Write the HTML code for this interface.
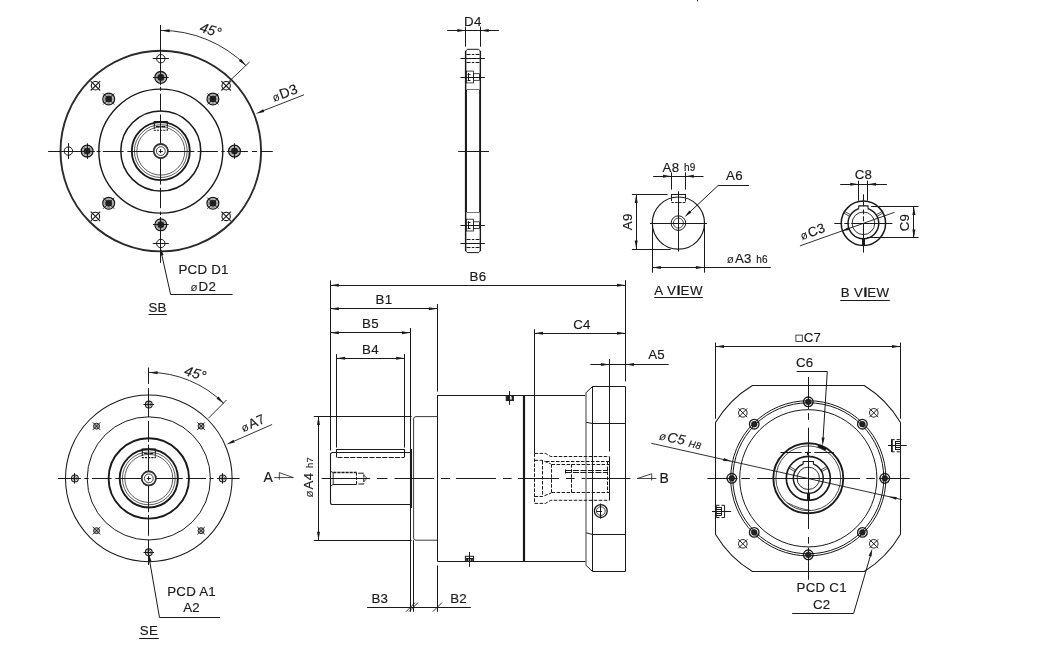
<!DOCTYPE html>
<html><head><meta charset="utf-8"><title>Dimension drawing</title>
<style>
html,body{margin:0;padding:0;background:#fff;}
body{width:1039px;height:659px;overflow:hidden;}
svg{display:block;opacity:0.9999;will-change:transform}
text{font-family:"Liberation Sans",sans-serif;fill:#1a1a1a;letter-spacing:0.25px;stroke:#1a1a1a;stroke-width:0.16px;}
</style></head><body>
<svg width="1039" height="659" viewBox="0 0 1039 659">
<rect x="0" y="0" width="1039" height="659" fill="#ffffff"/>
<circle cx="160.80" cy="151.10" r="100.30" stroke="#2a2a2a" stroke-width="1.9" fill="none"/>
<circle cx="160.80" cy="151.10" r="62.00" stroke="#1a1a1a" stroke-width="1.4" fill="none"/>
<circle cx="160.80" cy="151.10" r="40.00" stroke="#1a1a1a" stroke-width="1.5" fill="none"/>
<circle cx="160.80" cy="151.10" r="29.00" stroke="#1a1a1a" stroke-width="1.9" fill="none"/>
<circle cx="160.80" cy="151.10" r="26.40" stroke="#1a1a1a" stroke-width="0.7" fill="none"/>
<circle cx="160.80" cy="151.10" r="24.00" stroke="#1a1a1a" stroke-width="0.7" fill="none"/>
<circle cx="160.80" cy="151.10" r="7.00" stroke="#333" stroke-width="1.6" fill="none"/>
<circle cx="160.80" cy="151.10" r="4.40" stroke="#1a1a1a" stroke-width="0.8" fill="none"/>
<line x1="158.80" y1="151.50" x2="162.80" y2="151.50" stroke="#1a1a1a" stroke-width="1.0"/>
<line x1="160.50" y1="149.10" x2="160.50" y2="153.10" stroke="#1a1a1a" stroke-width="1.0"/>
<path d="M154.3,126.5 V121.5 H167.3 V126.5" stroke="#1a1a1a" stroke-width="1.15" fill="none"/>
<path d="M154.3,126.5 V130.29999999999998 H167.3 V126.5" stroke="#1a1a1a" stroke-width="1.05" fill="none" stroke-dasharray="2.2 1.0"/>
<line x1="155.80" y1="126.50" x2="165.80" y2="126.50" stroke="#1a1a1a" stroke-width="1.0" stroke-dasharray="4 1.5"/>
<line x1="48.10" y1="151.50" x2="94.30" y2="151.50" stroke="#1a1a1a" stroke-width="1.0"/>
<line x1="96.60" y1="151.50" x2="100.50" y2="151.50" stroke="#1a1a1a" stroke-width="1.0"/>
<line x1="102.80" y1="151.50" x2="123.60" y2="151.50" stroke="#1a1a1a" stroke-width="1.0"/>
<line x1="127.30" y1="151.50" x2="194.30" y2="151.50" stroke="#1a1a1a" stroke-width="1.0"/>
<line x1="197.50" y1="151.50" x2="217.90" y2="151.50" stroke="#1a1a1a" stroke-width="1.0"/>
<line x1="221.30" y1="151.50" x2="224.80" y2="151.50" stroke="#1a1a1a" stroke-width="1.0"/>
<line x1="227.60" y1="151.50" x2="247.90" y2="151.50" stroke="#1a1a1a" stroke-width="1.0"/>
<line x1="252.00" y1="151.50" x2="257.10" y2="151.50" stroke="#1a1a1a" stroke-width="1.0"/>
<line x1="260.60" y1="151.50" x2="272.80" y2="151.50" stroke="#1a1a1a" stroke-width="1.0"/>
<line x1="160.50" y1="25.00" x2="160.50" y2="84.50" stroke="#1a1a1a" stroke-width="1.0"/>
<line x1="160.50" y1="86.90" x2="160.50" y2="90.80" stroke="#1a1a1a" stroke-width="1.0"/>
<line x1="160.50" y1="93.80" x2="160.50" y2="111.50" stroke="#1a1a1a" stroke-width="1.0"/>
<line x1="160.50" y1="114.50" x2="160.50" y2="184.60" stroke="#1a1a1a" stroke-width="1.0"/>
<line x1="160.50" y1="187.80" x2="160.50" y2="208.20" stroke="#1a1a1a" stroke-width="1.0"/>
<line x1="160.50" y1="211.60" x2="160.50" y2="215.10" stroke="#1a1a1a" stroke-width="1.0"/>
<line x1="160.50" y1="217.90" x2="160.50" y2="238.20" stroke="#1a1a1a" stroke-width="1.0"/>
<line x1="160.50" y1="242.30" x2="160.50" y2="247.40" stroke="#1a1a1a" stroke-width="1.0"/>
<line x1="160.50" y1="250.90" x2="160.50" y2="262.80" stroke="#1a1a1a" stroke-width="1.0"/>
<circle cx="160.80" cy="151.10" r="7.00" stroke="#333" stroke-width="1.6" fill="#fff"/>
<circle cx="160.80" cy="151.10" r="4.40" stroke="#1a1a1a" stroke-width="0.8" fill="none"/>
<line x1="158.80" y1="151.50" x2="162.80" y2="151.50" stroke="#1a1a1a" stroke-width="1.0"/>
<line x1="160.50" y1="149.10" x2="160.50" y2="153.10" stroke="#1a1a1a" stroke-width="1.0"/>
<circle cx="234.50" cy="151.10" r="5.90" stroke="#1a1a1a" stroke-width="1.3" fill="none"/>
<circle cx="234.50" cy="151.10" r="3.30" stroke="#1a1a1a" stroke-width="0.6" fill="#222"/>
<circle cx="234.50" cy="151.10" r="4.48" stroke="#1a1a1a" stroke-width="0.5" fill="none"/>
<line x1="226.70" y1="151.50" x2="242.30" y2="151.50" stroke="#1a1a1a" stroke-width="1.0"/>
<line x1="234.50" y1="143.30" x2="234.50" y2="158.90" stroke="#1a1a1a" stroke-width="1.0"/>
<circle cx="212.91" cy="203.21" r="5.90" stroke="#1a1a1a" stroke-width="1.3" fill="none"/>
<circle cx="212.91" cy="203.21" r="3.30" stroke="#1a1a1a" stroke-width="0.6" fill="#222"/>
<circle cx="212.91" cy="203.21" r="4.48" stroke="#1a1a1a" stroke-width="0.5" fill="none"/>
<line x1="207.40" y1="197.70" x2="218.43" y2="208.73" stroke="#1a1a1a" stroke-width="0.9"/>
<line x1="218.43" y1="197.70" x2="207.40" y2="208.73" stroke="#1a1a1a" stroke-width="0.9"/>
<circle cx="160.80" cy="224.80" r="5.90" stroke="#1a1a1a" stroke-width="1.3" fill="none"/>
<circle cx="160.80" cy="224.80" r="3.30" stroke="#1a1a1a" stroke-width="0.6" fill="#222"/>
<circle cx="160.80" cy="224.80" r="4.48" stroke="#1a1a1a" stroke-width="0.5" fill="none"/>
<line x1="160.50" y1="217.00" x2="160.50" y2="232.60" stroke="#1a1a1a" stroke-width="1.0"/>
<line x1="168.60" y1="224.50" x2="153.00" y2="224.50" stroke="#1a1a1a" stroke-width="1.0"/>
<circle cx="108.69" cy="203.21" r="5.90" stroke="#1a1a1a" stroke-width="1.3" fill="none"/>
<circle cx="108.69" cy="203.21" r="3.30" stroke="#1a1a1a" stroke-width="0.6" fill="#222"/>
<circle cx="108.69" cy="203.21" r="4.48" stroke="#1a1a1a" stroke-width="0.5" fill="none"/>
<line x1="114.20" y1="197.70" x2="103.17" y2="208.73" stroke="#1a1a1a" stroke-width="0.9"/>
<line x1="114.20" y1="208.73" x2="103.17" y2="197.70" stroke="#1a1a1a" stroke-width="0.9"/>
<circle cx="87.10" cy="151.10" r="5.90" stroke="#1a1a1a" stroke-width="1.3" fill="none"/>
<circle cx="87.10" cy="151.10" r="3.30" stroke="#1a1a1a" stroke-width="0.6" fill="#222"/>
<circle cx="87.10" cy="151.10" r="4.48" stroke="#1a1a1a" stroke-width="0.5" fill="none"/>
<line x1="94.90" y1="151.50" x2="79.30" y2="151.50" stroke="#1a1a1a" stroke-width="1.0"/>
<line x1="87.50" y1="158.90" x2="87.50" y2="143.30" stroke="#1a1a1a" stroke-width="1.0"/>
<circle cx="108.69" cy="98.99" r="5.90" stroke="#1a1a1a" stroke-width="1.3" fill="none"/>
<circle cx="108.69" cy="98.99" r="3.30" stroke="#1a1a1a" stroke-width="0.6" fill="#222"/>
<circle cx="108.69" cy="98.99" r="4.48" stroke="#1a1a1a" stroke-width="0.5" fill="none"/>
<line x1="114.20" y1="104.50" x2="103.17" y2="93.47" stroke="#1a1a1a" stroke-width="0.9"/>
<line x1="103.17" y1="104.50" x2="114.20" y2="93.47" stroke="#1a1a1a" stroke-width="0.9"/>
<circle cx="160.80" cy="77.40" r="5.90" stroke="#1a1a1a" stroke-width="1.3" fill="none"/>
<circle cx="160.80" cy="77.40" r="3.30" stroke="#1a1a1a" stroke-width="0.6" fill="#222"/>
<circle cx="160.80" cy="77.40" r="4.48" stroke="#1a1a1a" stroke-width="0.5" fill="none"/>
<line x1="160.50" y1="85.20" x2="160.50" y2="69.60" stroke="#1a1a1a" stroke-width="1.0"/>
<line x1="153.00" y1="77.50" x2="168.60" y2="77.50" stroke="#1a1a1a" stroke-width="1.0"/>
<circle cx="212.91" cy="98.99" r="5.90" stroke="#1a1a1a" stroke-width="1.3" fill="none"/>
<circle cx="212.91" cy="98.99" r="3.30" stroke="#1a1a1a" stroke-width="0.6" fill="#222"/>
<circle cx="212.91" cy="98.99" r="4.48" stroke="#1a1a1a" stroke-width="0.5" fill="none"/>
<line x1="207.40" y1="104.50" x2="218.43" y2="93.47" stroke="#1a1a1a" stroke-width="0.9"/>
<line x1="207.40" y1="93.47" x2="218.43" y2="104.50" stroke="#1a1a1a" stroke-width="0.9"/>
<circle cx="226.14" cy="216.44" r="4.20" stroke="#1a1a1a" stroke-width="1.1" fill="none"/>
<line x1="221.40" y1="211.70" x2="230.87" y2="221.17" stroke="#1a1a1a" stroke-width="1.1"/>
<line x1="230.87" y1="211.70" x2="221.40" y2="221.17" stroke="#1a1a1a" stroke-width="1.1"/>
<circle cx="160.80" cy="243.50" r="4.20" stroke="#1a1a1a" stroke-width="1.0" fill="none"/>
<line x1="160.50" y1="235.50" x2="160.50" y2="251.50" stroke="#1a1a1a" stroke-width="1.0"/>
<line x1="168.80" y1="243.50" x2="152.80" y2="243.50" stroke="#1a1a1a" stroke-width="1.0"/>
<circle cx="95.46" cy="216.44" r="4.20" stroke="#1a1a1a" stroke-width="1.1" fill="none"/>
<line x1="100.20" y1="211.70" x2="90.73" y2="221.17" stroke="#1a1a1a" stroke-width="1.1"/>
<line x1="100.20" y1="221.17" x2="90.73" y2="211.70" stroke="#1a1a1a" stroke-width="1.1"/>
<circle cx="68.40" cy="151.10" r="4.20" stroke="#1a1a1a" stroke-width="1.0" fill="none"/>
<line x1="76.40" y1="151.50" x2="60.40" y2="151.50" stroke="#1a1a1a" stroke-width="1.0"/>
<line x1="68.50" y1="159.10" x2="68.50" y2="143.10" stroke="#1a1a1a" stroke-width="1.0"/>
<circle cx="95.46" cy="85.76" r="4.20" stroke="#1a1a1a" stroke-width="1.1" fill="none"/>
<line x1="100.20" y1="90.50" x2="90.73" y2="81.03" stroke="#1a1a1a" stroke-width="1.1"/>
<line x1="90.73" y1="90.50" x2="100.20" y2="81.03" stroke="#1a1a1a" stroke-width="1.1"/>
<circle cx="160.80" cy="58.70" r="4.20" stroke="#1a1a1a" stroke-width="1.0" fill="none"/>
<line x1="160.50" y1="66.70" x2="160.50" y2="50.70" stroke="#1a1a1a" stroke-width="1.0"/>
<line x1="152.80" y1="58.50" x2="168.80" y2="58.50" stroke="#1a1a1a" stroke-width="1.0"/>
<circle cx="226.14" cy="85.76" r="4.20" stroke="#1a1a1a" stroke-width="1.1" fill="none"/>
<line x1="221.40" y1="90.50" x2="230.87" y2="81.03" stroke="#1a1a1a" stroke-width="1.1"/>
<line x1="221.40" y1="81.03" x2="230.87" y2="90.50" stroke="#1a1a1a" stroke-width="1.1"/>
<path d="M160.8,30.39999999999999 A120.7,120.7 0 0 1 246.15,65.75" stroke="#1a1a1a" stroke-width="0.9" fill="none"/>
<polygon points="161.10,30.40 169.65,29.20 169.54,32.20" fill="#1a1a1a"/>
<polygon points="246.15,65.75 238.91,61.05 240.95,58.86" fill="#1a1a1a"/>
<line x1="228.00" y1="82.50" x2="249.50" y2="62.00" stroke="#1a1a1a" stroke-width="0.9"/>
<text x="209.40" y="34.70" font-size="14" text-anchor="middle" transform="rotate(17 209.40 34.70)" font-style="italic" >45°</text>
<line x1="260.00" y1="112.00" x2="304.00" y2="94.80" stroke="#1a1a1a" stroke-width="0.9"/>
<polygon points="255.80,113.70 263.17,109.21 264.26,112.01" fill="#1a1a1a"/>
<text x="274.00" y="102.00" font-size="14" text-anchor="start" transform="rotate(-20.5 274.00 102.00)" ><tspan font-size="11.5" stroke="none" letter-spacing="1.1">ø</tspan>D3</text>
<path d="M160.5,249 L170.6,294.5 H232.6" stroke="#1a1a1a" stroke-width="1.0" fill="none"/>
<polygon points="160.30,247.50 163.56,254.96 160.64,255.63" fill="#1a1a1a"/>
<text x="203.60" y="274.20" font-size="13.3" text-anchor="middle" >PCD D1</text>
<text x="203.30" y="290.50" font-size="13.3" text-anchor="middle" ><tspan font-size="11.5" stroke="none" letter-spacing="1.1">ø</tspan>D2</text>
<text x="157.60" y="312.00" font-size="13.3" text-anchor="middle" >SB</text>
<line x1="148.50" y1="314.50" x2="166.80" y2="314.50" stroke="#1a1a1a" stroke-width="1.0"/>
<circle cx="148.80" cy="478.40" r="83.30" stroke="#1a1a1a" stroke-width="1.05" fill="none"/>
<circle cx="148.80" cy="478.40" r="61.60" stroke="#1a1a1a" stroke-width="1.0" fill="none"/>
<circle cx="148.80" cy="478.40" r="40.20" stroke="#1a1a1a" stroke-width="1.9" fill="none"/>
<circle cx="148.80" cy="478.40" r="29.10" stroke="#1a1a1a" stroke-width="1.9" fill="none"/>
<circle cx="148.80" cy="478.40" r="26.40" stroke="#1a1a1a" stroke-width="0.7" fill="none"/>
<circle cx="148.80" cy="478.40" r="24.00" stroke="#1a1a1a" stroke-width="0.7" fill="none"/>
<circle cx="148.80" cy="478.40" r="7.00" stroke="#333" stroke-width="1.6" fill="none"/>
<circle cx="148.80" cy="478.40" r="4.40" stroke="#1a1a1a" stroke-width="0.8" fill="none"/>
<line x1="146.80" y1="478.50" x2="150.80" y2="478.50" stroke="#1a1a1a" stroke-width="1.0"/>
<line x1="148.50" y1="476.40" x2="148.50" y2="480.40" stroke="#1a1a1a" stroke-width="1.0"/>
<path d="M142.3,453.79999999999995 V449.09999999999997 H155.3 V453.79999999999995" stroke="#1a1a1a" stroke-width="1.15" fill="none"/>
<path d="M142.3,453.79999999999995 V457.59999999999997 H155.3 V453.79999999999995" stroke="#1a1a1a" stroke-width="1.05" fill="none" stroke-dasharray="2.2 1.0"/>
<line x1="143.80" y1="453.50" x2="153.80" y2="453.50" stroke="#1a1a1a" stroke-width="1.0" stroke-dasharray="4 1.5"/>
<line x1="58.10" y1="478.50" x2="80.80" y2="478.50" stroke="#1a1a1a" stroke-width="1.0"/>
<line x1="84.30" y1="478.50" x2="88.50" y2="478.50" stroke="#1a1a1a" stroke-width="1.0"/>
<line x1="92.00" y1="478.50" x2="111.60" y2="478.50" stroke="#1a1a1a" stroke-width="1.0"/>
<line x1="115.40" y1="478.50" x2="182.80" y2="478.50" stroke="#1a1a1a" stroke-width="1.0"/>
<line x1="186.30" y1="478.50" x2="205.90" y2="478.50" stroke="#1a1a1a" stroke-width="1.0"/>
<line x1="209.40" y1="478.50" x2="213.60" y2="478.50" stroke="#1a1a1a" stroke-width="1.0"/>
<line x1="217.10" y1="478.50" x2="239.60" y2="478.50" stroke="#1a1a1a" stroke-width="1.0"/>
<line x1="148.50" y1="367.50" x2="148.50" y2="383.90" stroke="#1a1a1a" stroke-width="1.0"/>
<line x1="148.50" y1="388.20" x2="148.50" y2="417.30" stroke="#1a1a1a" stroke-width="1.0"/>
<line x1="148.50" y1="421.00" x2="148.50" y2="441.90" stroke="#1a1a1a" stroke-width="1.0"/>
<line x1="148.50" y1="444.60" x2="148.50" y2="512.20" stroke="#1a1a1a" stroke-width="1.0"/>
<line x1="148.50" y1="514.90" x2="148.50" y2="535.80" stroke="#1a1a1a" stroke-width="1.0"/>
<line x1="148.50" y1="539.50" x2="148.50" y2="565.00" stroke="#1a1a1a" stroke-width="1.0"/>
<circle cx="148.80" cy="478.40" r="7.00" stroke="#333" stroke-width="1.6" fill="#fff"/>
<circle cx="148.80" cy="478.40" r="4.40" stroke="#1a1a1a" stroke-width="0.8" fill="none"/>
<line x1="146.80" y1="478.50" x2="150.80" y2="478.50" stroke="#1a1a1a" stroke-width="1.0"/>
<line x1="148.50" y1="476.40" x2="148.50" y2="480.40" stroke="#1a1a1a" stroke-width="1.0"/>
<circle cx="222.70" cy="478.40" r="3.40" stroke="#1a1a1a" stroke-width="1.1" fill="none"/>
<circle cx="222.70" cy="478.40" r="1.90" stroke="#1a1a1a" stroke-width="0.6" fill="none"/>
<line x1="217.40" y1="478.50" x2="228.00" y2="478.50" stroke="#1a1a1a" stroke-width="1.0"/>
<line x1="222.50" y1="473.10" x2="222.50" y2="483.70" stroke="#1a1a1a" stroke-width="1.0"/>
<circle cx="201.06" cy="530.66" r="3.00" stroke="#1a1a1a" stroke-width="0.9" fill="#aaa"/>
<line x1="197.26" y1="526.86" x2="204.86" y2="534.46" stroke="#1a1a1a" stroke-width="0.9"/>
<line x1="197.26" y1="534.46" x2="204.86" y2="526.86" stroke="#1a1a1a" stroke-width="0.9"/>
<circle cx="148.80" cy="552.30" r="3.40" stroke="#1a1a1a" stroke-width="1.1" fill="none"/>
<circle cx="148.80" cy="552.30" r="1.90" stroke="#1a1a1a" stroke-width="0.6" fill="none"/>
<line x1="143.50" y1="552.50" x2="154.10" y2="552.50" stroke="#1a1a1a" stroke-width="1.0"/>
<line x1="148.50" y1="547.00" x2="148.50" y2="557.60" stroke="#1a1a1a" stroke-width="1.0"/>
<circle cx="96.54" cy="530.66" r="3.00" stroke="#1a1a1a" stroke-width="0.9" fill="#aaa"/>
<line x1="92.74" y1="526.86" x2="100.34" y2="534.46" stroke="#1a1a1a" stroke-width="0.9"/>
<line x1="92.74" y1="534.46" x2="100.34" y2="526.86" stroke="#1a1a1a" stroke-width="0.9"/>
<circle cx="74.90" cy="478.40" r="3.40" stroke="#1a1a1a" stroke-width="1.1" fill="none"/>
<circle cx="74.90" cy="478.40" r="1.90" stroke="#1a1a1a" stroke-width="0.6" fill="none"/>
<line x1="69.60" y1="478.50" x2="80.20" y2="478.50" stroke="#1a1a1a" stroke-width="1.0"/>
<line x1="74.50" y1="473.10" x2="74.50" y2="483.70" stroke="#1a1a1a" stroke-width="1.0"/>
<circle cx="96.54" cy="426.14" r="3.00" stroke="#1a1a1a" stroke-width="0.9" fill="#aaa"/>
<line x1="92.74" y1="422.34" x2="100.34" y2="429.94" stroke="#1a1a1a" stroke-width="0.9"/>
<line x1="92.74" y1="429.94" x2="100.34" y2="422.34" stroke="#1a1a1a" stroke-width="0.9"/>
<circle cx="148.80" cy="404.50" r="3.40" stroke="#1a1a1a" stroke-width="1.1" fill="none"/>
<circle cx="148.80" cy="404.50" r="1.90" stroke="#1a1a1a" stroke-width="0.6" fill="none"/>
<line x1="143.50" y1="404.50" x2="154.10" y2="404.50" stroke="#1a1a1a" stroke-width="1.0"/>
<line x1="148.50" y1="399.20" x2="148.50" y2="409.80" stroke="#1a1a1a" stroke-width="1.0"/>
<circle cx="201.06" cy="426.14" r="3.00" stroke="#1a1a1a" stroke-width="0.9" fill="#aaa"/>
<line x1="197.26" y1="422.34" x2="204.86" y2="429.94" stroke="#1a1a1a" stroke-width="0.9"/>
<line x1="197.26" y1="429.94" x2="204.86" y2="422.34" stroke="#1a1a1a" stroke-width="0.9"/>
<path d="M148.8,372.4 A106,106 0 0 1 223.75,403.45" stroke="#1a1a1a" stroke-width="0.9" fill="none"/>
<polygon points="149.10,372.40 157.65,371.20 157.54,374.20" fill="#1a1a1a"/>
<polygon points="223.75,403.45 216.51,398.75 218.56,396.55" fill="#1a1a1a"/>
<line x1="208.40" y1="418.30" x2="226.50" y2="400.00" stroke="#1a1a1a" stroke-width="0.9"/>
<text x="194.00" y="377.90" font-size="14" text-anchor="middle" transform="rotate(17 194.00 377.90)" font-style="italic" >45°</text>
<line x1="231.00" y1="442.50" x2="272.10" y2="424.50" stroke="#1a1a1a" stroke-width="0.9"/>
<polygon points="226.30,444.50 233.49,439.72 234.69,442.47" fill="#1a1a1a"/>
<text x="243.30" y="432.30" font-size="13.3" text-anchor="start" transform="rotate(-24 243.30 432.30)" ><tspan font-size="11.5" stroke="none" letter-spacing="1.1">ø</tspan>A7</text>
<path d="M148.8,556 L159.5,617.5 H220" stroke="#1a1a1a" stroke-width="1.0" fill="none"/>
<polygon points="148.60,553.50 151.47,561.12 148.51,561.64" fill="#1a1a1a"/>
<text x="191.60" y="595.80" font-size="13.3" text-anchor="middle" >PCD A1</text>
<text x="191.60" y="612.40" font-size="13.3" text-anchor="middle" >A2</text>
<text x="148.90" y="635.20" font-size="13.3" text-anchor="middle" >SE</text>
<line x1="139.20" y1="638.50" x2="158.80" y2="638.50" stroke="#1a1a1a" stroke-width="1.1"/>
<path d="M465.8,51 L467.3,49.3 H478.7 L480.2,51 V251 L478.7,252.6 H467.3 L465.8,251 Z" stroke="#1a1a1a" stroke-width="1.0" fill="none"/>
<line x1="466.00" y1="89.50" x2="466.00" y2="212.20" stroke="#1a1a1a" stroke-width="1.9"/>
<line x1="480.00" y1="89.50" x2="480.00" y2="212.20" stroke="#1a1a1a" stroke-width="1.6"/>
<line x1="480.50" y1="51.00" x2="480.50" y2="251.00" stroke="#1a1a1a" stroke-width="1.1"/>
<line x1="465.50" y1="51.00" x2="465.50" y2="251.00" stroke="#1a1a1a" stroke-width="1.2"/>
<line x1="466.00" y1="89.50" x2="480.00" y2="89.50" stroke="#777" stroke-width="1.0"/>
<line x1="466.00" y1="212.50" x2="480.00" y2="212.50" stroke="#777" stroke-width="1.0"/>
<line x1="447.20" y1="30.50" x2="498.90" y2="30.50" stroke="#1a1a1a" stroke-width="1.0"/>
<line x1="465.50" y1="26.60" x2="465.50" y2="46.70" stroke="#1a1a1a" stroke-width="1.0"/>
<line x1="480.50" y1="26.60" x2="480.50" y2="46.70" stroke="#1a1a1a" stroke-width="1.0"/>
<polygon points="465.80,30.60 457.30,32.10 457.30,29.10" fill="#1a1a1a"/>
<polygon points="480.20,30.60 488.70,29.10 488.70,32.10" fill="#1a1a1a"/>
<text x="472.80" y="25.60" font-size="13.3" text-anchor="middle" >D4</text>
<line x1="460.40" y1="58.50" x2="484.80" y2="58.50" stroke="#1a1a1a" stroke-width="1.0"/>
<line x1="460.40" y1="77.50" x2="484.80" y2="77.50" stroke="#1a1a1a" stroke-width="1.0"/>
<line x1="460.40" y1="225.50" x2="484.80" y2="225.50" stroke="#1a1a1a" stroke-width="1.0"/>
<line x1="460.40" y1="243.50" x2="484.80" y2="243.50" stroke="#1a1a1a" stroke-width="1.0"/>
<line x1="458.20" y1="151.50" x2="489.00" y2="151.50" stroke="#1a1a1a" stroke-width="1.0"/>
<line x1="466.50" y1="54.50" x2="479.50" y2="54.50" stroke="#1a1a1a" stroke-width="1.0" stroke-dasharray="4 1.3 2.5 1.3"/>
<line x1="466.50" y1="62.50" x2="479.50" y2="62.50" stroke="#1a1a1a" stroke-width="1.0" stroke-dasharray="4 1.3 2.5 1.3"/>
<line x1="466.50" y1="239.50" x2="479.50" y2="239.50" stroke="#1a1a1a" stroke-width="1.0" stroke-dasharray="4 1.3 2.5 1.3"/>
<line x1="466.50" y1="247.50" x2="479.50" y2="247.50" stroke="#1a1a1a" stroke-width="1.0" stroke-dasharray="4 1.3 2.5 1.3"/>
<rect x="466.40" y="71.10" width="7.00" height="11.80" rx="0" stroke="#1a1a1a" stroke-width="0.8" fill="none"/>
<rect x="473.40" y="73.70" width="6.00" height="6.60" rx="0" stroke="#1a1a1a" stroke-width="0.8" fill="none"/>
<line x1="467.50" y1="74.50" x2="470.50" y2="74.50" stroke="#1a1a1a" stroke-width="1.0"/>
<line x1="467.50" y1="77.50" x2="470.50" y2="77.50" stroke="#1a1a1a" stroke-width="1.0"/>
<line x1="467.50" y1="80.50" x2="470.50" y2="80.50" stroke="#1a1a1a" stroke-width="1.0"/>
<line x1="468.50" y1="73.00" x2="468.50" y2="81.00" stroke="#1a1a1a" stroke-width="1.0"/>
<rect x="466.40" y="219.20" width="7.00" height="11.80" rx="0" stroke="#1a1a1a" stroke-width="0.8" fill="none"/>
<rect x="473.40" y="221.80" width="6.00" height="6.60" rx="0" stroke="#1a1a1a" stroke-width="0.8" fill="none"/>
<line x1="467.50" y1="222.50" x2="470.50" y2="222.50" stroke="#1a1a1a" stroke-width="1.0"/>
<line x1="467.50" y1="225.50" x2="470.50" y2="225.50" stroke="#1a1a1a" stroke-width="1.0"/>
<line x1="467.50" y1="228.50" x2="470.50" y2="228.50" stroke="#1a1a1a" stroke-width="1.0"/>
<line x1="468.50" y1="221.10" x2="468.50" y2="229.10" stroke="#1a1a1a" stroke-width="1.0"/>
<path d="M410.4,452.5 H332.6 Q330.5,452.5 330.5,454.6 V502.4 Q330.5,504.5 332.6,504.5 H410.4" stroke="#1a1a1a" stroke-width="1.1" fill="none"/>
<line x1="411.00" y1="449.00" x2="411.00" y2="508.00" stroke="#1a1a1a" stroke-width="2.1"/>
<path d="M336.5,457.4 V449.5 H404.5 V457.4" stroke="#1a1a1a" stroke-width="1.1" fill="none"/>
<line x1="337.50" y1="457.50" x2="404.00" y2="457.50" stroke="#1a1a1a" stroke-width="1.0" stroke-dasharray="5 1.4"/>
<path d="M330.6,471.2 L333.2,472.7 V484.5 L330.6,486" stroke="#1a1a1a" stroke-width="0.9" fill="none"/>
<line x1="333.20" y1="472.50" x2="356.60" y2="472.50" stroke="#1a1a1a" stroke-width="1.3" stroke-dasharray="3.2 0.9"/>
<line x1="333.20" y1="484.50" x2="356.60" y2="484.50" stroke="#1a1a1a" stroke-width="1.0"/>
<line x1="356.50" y1="472.70" x2="356.50" y2="484.50" stroke="#1a1a1a" stroke-width="1.0" stroke-dasharray="3 1.2"/>
<path d="M358.2,473.2 H363.8 V484.0 H358.2" stroke="#1a1a1a" stroke-width="1.0" fill="none" stroke-dasharray="5.6 1.4 3 1.4 3 1.4 5.6 0"/>
<path d="M363.8,474.8 L366.9,478.3 L363.8,481.8" stroke="#1a1a1a" stroke-width="0.7" fill="none"/>
<line x1="321.70" y1="478.50" x2="370.20" y2="478.50" stroke="#1a1a1a" stroke-width="1.0"/>
<line x1="377.00" y1="478.50" x2="387.50" y2="478.50" stroke="#1a1a1a" stroke-width="1.0"/>
<line x1="394.50" y1="478.50" x2="434.00" y2="478.50" stroke="#1a1a1a" stroke-width="1.0"/>
<line x1="441.00" y1="478.50" x2="450.00" y2="478.50" stroke="#1a1a1a" stroke-width="1.0"/>
<line x1="456.00" y1="478.50" x2="496.00" y2="478.50" stroke="#1a1a1a" stroke-width="1.0"/>
<line x1="503.00" y1="478.50" x2="511.60" y2="478.50" stroke="#1a1a1a" stroke-width="1.0"/>
<line x1="518.00" y1="478.50" x2="559.00" y2="478.50" stroke="#1a1a1a" stroke-width="1.0"/>
<line x1="566.00" y1="478.50" x2="574.70" y2="478.50" stroke="#1a1a1a" stroke-width="1.0"/>
<line x1="581.60" y1="478.50" x2="630.40" y2="478.50" stroke="#1a1a1a" stroke-width="1.0"/>
<path d="M437.4,416.6 H416 Q413.6,416.6 413.6,419 V538 Q413.6,540.2 416,540.2 H437.4" stroke="#3a3a3a" stroke-width="1.0" fill="none"/>
<line x1="437.40" y1="395.50" x2="586.00" y2="395.50" stroke="#1a1a1a" stroke-width="1.0"/>
<line x1="437.40" y1="561.50" x2="586.00" y2="561.50" stroke="#1a1a1a" stroke-width="1.0"/>
<line x1="437.50" y1="395.20" x2="437.50" y2="561.40" stroke="#1a1a1a" stroke-width="1.0"/>
<line x1="524.00" y1="395.20" x2="524.00" y2="561.40" stroke="#1a1a1a" stroke-width="2.2"/>
<line x1="586.00" y1="392.30" x2="586.00" y2="565.40" stroke="#888" stroke-width="1.6"/>
<path d="M586.2,392.5 L592.5,386.5 H625.5 V571.5 H592.5 L586.2,565.4" stroke="#1a1a1a" stroke-width="1.0" fill="none"/>
<line x1="592.50" y1="386.20" x2="592.50" y2="571.40" stroke="#1a1a1a" stroke-width="1.0"/>
<path d="M586.2,422.3 L592.5,423.5 H625.5" stroke="#1a1a1a" stroke-width="1.0" fill="none"/>
<path d="M586.2,532.8 L592.5,534.5 H625.5" stroke="#1a1a1a" stroke-width="1.0" fill="none"/>
<path d="M534.6,453.4 H545.5 L550.7,456.5 H609.3" stroke="#1a1a1a" stroke-width="1.0" fill="none" stroke-dasharray="3.5 1.5"/>
<path d="M534.6,503.4 H545.5 L550.7,500.3 H609.3" stroke="#1a1a1a" stroke-width="1.0" fill="none" stroke-dasharray="3.5 1.5"/>
<path d="M534.6,460.3 H542 L550.7,463.8" stroke="#1a1a1a" stroke-width="1.0" fill="none" stroke-dasharray="3.5 1.5"/>
<path d="M534.6,496.5 H542.6 L551.1,493.0" stroke="#1a1a1a" stroke-width="1.0" fill="none" stroke-dasharray="3.5 1.5"/>
<line x1="546.00" y1="461.50" x2="609.30" y2="461.50" stroke="#1a1a1a" stroke-width="1.0" stroke-dasharray="3.5 1.5"/>
<line x1="551.60" y1="464.50" x2="609.30" y2="464.50" stroke="#1a1a1a" stroke-width="1.0" stroke-dasharray="3.5 1.5"/>
<line x1="551.60" y1="492.50" x2="609.30" y2="492.50" stroke="#1a1a1a" stroke-width="1.0" stroke-dasharray="3.5 1.5"/>
<line x1="534.50" y1="453.40" x2="534.50" y2="503.40" stroke="#1a1a1a" stroke-width="1.0" stroke-dasharray="3.5 1.5"/>
<line x1="542.50" y1="461.00" x2="542.50" y2="496.50" stroke="#1a1a1a" stroke-width="1.0" stroke-dasharray="3.5 1.5"/>
<line x1="551.50" y1="464.20" x2="551.50" y2="492.60" stroke="#1a1a1a" stroke-width="1.0" stroke-dasharray="3.5 1.5"/>
<line x1="571.50" y1="464.20" x2="571.50" y2="492.60" stroke="#1a1a1a" stroke-width="1.0" stroke-dasharray="3.5 1.5"/>
<line x1="607.50" y1="461.50" x2="607.50" y2="493.00" stroke="#1a1a1a" stroke-width="1.0" stroke-dasharray="3.5 1.5"/>
<line x1="609.50" y1="456.50" x2="609.50" y2="500.30" stroke="#1a1a1a" stroke-width="1.0"/>
<line x1="565.40" y1="470.50" x2="608.00" y2="470.50" stroke="#1a1a1a" stroke-width="1.0" stroke-dasharray="6 1.5"/>
<line x1="565.40" y1="472.50" x2="608.00" y2="472.50" stroke="#1a1a1a" stroke-width="1.0" stroke-dasharray="6 1.5"/>
<line x1="565.50" y1="469.40" x2="565.50" y2="473.50" stroke="#1a1a1a" stroke-width="1.0"/>
<circle cx="600.80" cy="511.10" r="6.40" stroke="#1a1a1a" stroke-width="1.3" fill="none"/>
<circle cx="600.80" cy="511.10" r="4.40" stroke="#1a1a1a" stroke-width="0.8" fill="none"/>
<line x1="600.50" y1="503.50" x2="600.50" y2="518.70" stroke="#1a1a1a" stroke-width="1.0"/>
<line x1="596.50" y1="511.50" x2="602.00" y2="511.50" stroke="#1a1a1a" stroke-width="1.0"/>
<line x1="509.50" y1="391.10" x2="509.50" y2="404.80" stroke="#1a1a1a" stroke-width="1.0"/>
<rect x="506.20" y="395.60" width="7.20" height="5.00" rx="0" stroke="#1a1a1a" stroke-width="0.9" fill="#222"/>
<rect x="510.20" y="396.60" width="1.40" height="3.00" rx="0" stroke="#fff" stroke-width="0.1" fill="#fff"/>
<line x1="469.50" y1="552.00" x2="469.50" y2="566.80" stroke="#1a1a1a" stroke-width="1.0"/>
<rect x="465.40" y="556.30" width="8.20" height="5.20" rx="0" stroke="#1a1a1a" stroke-width="1.0" fill="none"/>
<line x1="465.40" y1="558.50" x2="473.60" y2="558.50" stroke="#1a1a1a" stroke-width="1.0"/>
<rect x="466.20" y="558.40" width="2.20" height="3.00" rx="0" stroke="#1a1a1a" stroke-width="0.1" fill="#222"/>
<rect x="470.60" y="558.40" width="2.20" height="3.00" rx="0" stroke="#1a1a1a" stroke-width="0.1" fill="#222"/>
<line x1="330.50" y1="280.40" x2="330.50" y2="450.40" stroke="#1a1a1a" stroke-width="1.0"/>
<line x1="625.50" y1="280.10" x2="625.50" y2="381.40" stroke="#1a1a1a" stroke-width="1.0"/>
<line x1="330.30" y1="285.50" x2="625.50" y2="285.50" stroke="#1a1a1a" stroke-width="1.0"/>
<polygon points="330.30,285.20 338.80,283.70 338.80,286.70" fill="#1a1a1a"/>
<polygon points="625.50,285.20 617.00,286.70 617.00,283.70" fill="#1a1a1a"/>
<text x="478.00" y="280.80" font-size="13.3" text-anchor="middle" >B6</text>
<line x1="437.50" y1="304.00" x2="437.50" y2="391.60" stroke="#1a1a1a" stroke-width="1.0"/>
<line x1="330.30" y1="308.50" x2="437.30" y2="308.50" stroke="#1a1a1a" stroke-width="1.0"/>
<polygon points="330.30,308.80 338.80,307.30 338.80,310.30" fill="#1a1a1a"/>
<polygon points="437.30,308.80 428.80,310.30 428.80,307.30" fill="#1a1a1a"/>
<text x="384.00" y="304.00" font-size="13.3" text-anchor="middle" >B1</text>
<line x1="410.50" y1="328.00" x2="410.50" y2="449.00" stroke="#1a1a1a" stroke-width="1.0"/>
<line x1="330.30" y1="332.50" x2="410.40" y2="332.50" stroke="#1a1a1a" stroke-width="1.0"/>
<polygon points="330.30,332.80 338.80,331.30 338.80,334.30" fill="#1a1a1a"/>
<polygon points="410.40,332.80 401.90,334.30 401.90,331.30" fill="#1a1a1a"/>
<text x="370.50" y="328.00" font-size="13.3" text-anchor="middle" >B5</text>
<line x1="336.50" y1="354.00" x2="336.50" y2="447.60" stroke="#1a1a1a" stroke-width="1.0"/>
<line x1="404.50" y1="354.00" x2="404.50" y2="447.60" stroke="#1a1a1a" stroke-width="1.0"/>
<line x1="336.60" y1="358.50" x2="404.70" y2="358.50" stroke="#1a1a1a" stroke-width="1.0"/>
<polygon points="336.60,358.30 345.10,356.80 345.10,359.80" fill="#1a1a1a"/>
<polygon points="404.70,358.30 396.20,359.80 396.20,356.80" fill="#1a1a1a"/>
<text x="370.50" y="354.10" font-size="13.3" text-anchor="middle" >B4</text>
<line x1="534.50" y1="329.20" x2="534.50" y2="453.40" stroke="#1a1a1a" stroke-width="1.0"/>
<line x1="534.50" y1="333.50" x2="625.50" y2="333.50" stroke="#1a1a1a" stroke-width="1.0"/>
<polygon points="534.50,333.30 543.00,331.80 543.00,334.80" fill="#1a1a1a"/>
<polygon points="625.50,333.30 617.00,334.80 617.00,331.80" fill="#1a1a1a"/>
<text x="582.00" y="329.20" font-size="13.3" text-anchor="middle" >C4</text>
<line x1="609.50" y1="359.00" x2="609.50" y2="451.50" stroke="#1a1a1a" stroke-width="1.0"/>
<line x1="590.30" y1="364.50" x2="668.70" y2="364.50" stroke="#1a1a1a" stroke-width="1.0"/>
<polygon points="609.40,364.40 600.90,365.90 600.90,362.90" fill="#1a1a1a"/>
<polygon points="625.50,364.40 634.00,362.90 634.00,365.90" fill="#1a1a1a"/>
<text x="656.60" y="359.30" font-size="13.3" text-anchor="middle" >A5</text>
<line x1="313.80" y1="416.50" x2="411.70" y2="416.50" stroke="#1a1a1a" stroke-width="1.0"/>
<line x1="313.80" y1="540.50" x2="411.70" y2="540.50" stroke="#1a1a1a" stroke-width="1.0"/>
<line x1="318.50" y1="416.60" x2="318.50" y2="540.20" stroke="#1a1a1a" stroke-width="1.0"/>
<polygon points="318.50,416.60 320.00,425.10 317.00,425.10" fill="#1a1a1a"/>
<polygon points="318.50,540.20 317.00,531.70 320.00,531.70" fill="#1a1a1a"/>
<text x="313.40" y="497.60" font-size="13.3" text-anchor="start" transform="rotate(-90 313.40 497.60)" ><tspan font-size="11.5" stroke="none" letter-spacing="1.1">ø</tspan>A4 <tspan font-size="9.4" dx="0.8">h7</tspan></text>
<line x1="410.50" y1="508.00" x2="410.50" y2="611.80" stroke="#1a1a1a" stroke-width="1.0"/>
<line x1="413.50" y1="540.20" x2="413.50" y2="611.80" stroke="#1a1a1a" stroke-width="1.0"/>
<line x1="437.50" y1="565.40" x2="437.50" y2="611.80" stroke="#1a1a1a" stroke-width="1.0"/>
<line x1="367.00" y1="607.50" x2="470.80" y2="607.50" stroke="#1a1a1a" stroke-width="1.0"/>
<line x1="406.10" y1="611.60" x2="415.10" y2="602.60" stroke="#1a1a1a" stroke-width="0.9"/>
<line x1="409.00" y1="611.60" x2="418.00" y2="602.60" stroke="#1a1a1a" stroke-width="0.9"/>
<line x1="432.90" y1="611.60" x2="441.90" y2="602.60" stroke="#1a1a1a" stroke-width="0.9"/>
<text x="379.80" y="602.60" font-size="13.3" text-anchor="middle" >B3</text>
<text x="458.60" y="602.60" font-size="13.3" text-anchor="middle" >B2</text>
<text x="268.30" y="481.90" font-size="14" text-anchor="middle" >A</text>
<path d="M274.3,477.6 H293.4 L279.3,472.6 V479.8" stroke="#1a1a1a" stroke-width="0.8" fill="none"/>
<text x="664.30" y="483.40" font-size="14" text-anchor="middle" >B</text>
<path d="M656.4,478.5 H637.3 L651.7,473.8 V480.5" stroke="#1a1a1a" stroke-width="0.8" fill="none"/>
<line x1="697.50" y1="0.00" x2="697.50" y2="1.30" stroke="#1a1a1a" stroke-width="1.0"/>
<circle cx="678.40" cy="223.10" r="26.10" stroke="#1a1a1a" stroke-width="1.2" fill="none"/>
<circle cx="678.40" cy="223.10" r="7.30" stroke="#1a1a1a" stroke-width="1.0" fill="none"/>
<circle cx="678.40" cy="223.10" r="5.00" stroke="#1a1a1a" stroke-width="0.8" fill="none"/>
<line x1="650.00" y1="223.50" x2="707.00" y2="223.50" stroke="#1a1a1a" stroke-width="1.0"/>
<line x1="678.50" y1="191.30" x2="678.50" y2="251.50" stroke="#1a1a1a" stroke-width="1.0"/>
<path d="M671.5,198.5 V194.5 H685.5 V198.5" stroke="#1a1a1a" stroke-width="1.05" fill="none"/>
<path d="M671.5,198.5 V202.5 H685.5 V198.5" stroke="#1a1a1a" stroke-width="1.0" fill="none" stroke-dasharray="2.6 1.2"/>
<line x1="653.20" y1="176.50" x2="703.50" y2="176.50" stroke="#1a1a1a" stroke-width="1.0"/>
<line x1="671.50" y1="172.30" x2="671.50" y2="189.60" stroke="#1a1a1a" stroke-width="1.0"/>
<line x1="685.50" y1="172.30" x2="685.50" y2="189.60" stroke="#1a1a1a" stroke-width="1.0"/>
<polygon points="671.50,176.20 663.00,177.70 663.00,174.70" fill="#1a1a1a"/>
<polygon points="685.30,176.20 693.80,174.70 693.80,177.70" fill="#1a1a1a"/>
<text x="671.00" y="171.60" font-size="13.3" text-anchor="middle" >A8</text>
<text x="689.80" y="171.40" font-size="10" text-anchor="middle" >h9</text>
<path d="M686.5,215.2 L718.1,185.5 H748.9" stroke="#1a1a1a" stroke-width="1.0" fill="none"/>
<polygon points="684.60,217.00 689.37,210.41 691.44,212.58" fill="#1a1a1a"/>
<text x="734.40" y="180.30" font-size="13.3" text-anchor="middle" >A6</text>
<line x1="631.90" y1="194.50" x2="667.60" y2="194.50" stroke="#1a1a1a" stroke-width="1.0"/>
<line x1="631.90" y1="249.50" x2="670.70" y2="249.50" stroke="#1a1a1a" stroke-width="1.0"/>
<line x1="636.50" y1="194.40" x2="636.50" y2="249.10" stroke="#1a1a1a" stroke-width="1.0"/>
<polygon points="636.20,194.40 637.70,202.90 634.70,202.90" fill="#1a1a1a"/>
<polygon points="636.20,249.10 634.70,240.60 637.70,240.60" fill="#1a1a1a"/>
<text x="632.20" y="221.80" font-size="13.3" text-anchor="middle" transform="rotate(-90 632.20 221.80)" >A9</text>
<line x1="652.50" y1="223.10" x2="652.50" y2="272.70" stroke="#1a1a1a" stroke-width="1.0"/>
<line x1="704.50" y1="223.10" x2="704.50" y2="272.70" stroke="#1a1a1a" stroke-width="1.0"/>
<line x1="652.40" y1="267.50" x2="770.80" y2="267.50" stroke="#1a1a1a" stroke-width="1.0"/>
<polygon points="652.40,267.60 660.90,266.10 660.90,269.10" fill="#1a1a1a"/>
<polygon points="704.40,267.60 695.90,269.10 695.90,266.10" fill="#1a1a1a"/>
<text x="726.80" y="263.40" font-size="13.3" text-anchor="start" ><tspan font-size="11.5" stroke="none" letter-spacing="1.1">ø</tspan>A3 <tspan font-size="10" dx="0.6">h6</tspan></text>
<text x="678.50" y="294.90" font-size="13.3" text-anchor="middle" textLength="48.4" lengthAdjust="spacing">A VIEW</text>
<rect x="677.90" y="285.40" width="1.70" height="9.50" rx="0" stroke="#1a1a1a" stroke-width="0.1" fill="#1a1a1a"/>
<line x1="654.20" y1="297.50" x2="702.80" y2="297.50" stroke="#1a1a1a" stroke-width="1.0"/>
<circle cx="863.40" cy="223.30" r="22.20" stroke="#1a1a1a" stroke-width="1.5" fill="none"/>
<circle cx="863.40" cy="223.30" r="15.40" stroke="#1a1a1a" stroke-width="1.5" fill="none"/>
<circle cx="863.40" cy="223.30" r="11.30" stroke="#1a1a1a" stroke-width="0.9" fill="none"/>
<line x1="834.30" y1="223.50" x2="892.40" y2="223.50" stroke="#1a1a1a" stroke-width="1.0" stroke-dasharray="8 2 5 2 100"/>
<line x1="863.50" y1="194.30" x2="863.50" y2="252.60" stroke="#1a1a1a" stroke-width="1.0" stroke-dasharray="20 2 5 2 100"/>
<rect x="859.00" y="206.30" width="8.80" height="3.20" rx="0" stroke="#fff" stroke-width="0.1" fill="#fff"/>
<path d="M858.8,208.4 V205.9 H868.0 V208.4" stroke="#1a1a1a" stroke-width="1.1" fill="none"/>
<line x1="876.29" y1="214.82" x2="882.18" y2="211.42" stroke="#1a1a1a" stroke-width="0.8"/>
<line x1="877.19" y1="216.38" x2="883.08" y2="212.98" stroke="#1a1a1a" stroke-width="0.8"/>
<line x1="849.61" y1="216.38" x2="843.72" y2="212.98" stroke="#1a1a1a" stroke-width="0.8"/>
<line x1="850.51" y1="214.82" x2="844.62" y2="211.42" stroke="#1a1a1a" stroke-width="0.8"/>
<line x1="864.50" y1="238.70" x2="864.50" y2="245.50" stroke="#1a1a1a" stroke-width="1.0"/>
<line x1="862.50" y1="238.70" x2="862.50" y2="245.50" stroke="#1a1a1a" stroke-width="1.0"/>
<line x1="840.20" y1="184.50" x2="886.90" y2="184.50" stroke="#1a1a1a" stroke-width="1.0"/>
<line x1="858.50" y1="180.70" x2="858.50" y2="200.70" stroke="#1a1a1a" stroke-width="1.0"/>
<line x1="867.50" y1="180.70" x2="867.50" y2="200.70" stroke="#1a1a1a" stroke-width="1.0"/>
<polygon points="858.80,184.20 850.30,185.70 850.30,182.70" fill="#1a1a1a"/>
<polygon points="867.60,184.20 876.10,182.70 876.10,185.70" fill="#1a1a1a"/>
<text x="863.40" y="179.30" font-size="13.3" text-anchor="middle" >C8</text>
<line x1="871.20" y1="206.50" x2="918.60" y2="206.50" stroke="#1a1a1a" stroke-width="1.0"/>
<line x1="867.10" y1="237.50" x2="918.60" y2="237.50" stroke="#1a1a1a" stroke-width="1.0"/>
<line x1="913.50" y1="206.60" x2="913.50" y2="237.90" stroke="#1a1a1a" stroke-width="1.0"/>
<polygon points="913.90,206.60 915.40,215.10 912.40,215.10" fill="#1a1a1a"/>
<polygon points="913.90,237.90 912.40,229.40 915.40,229.40" fill="#1a1a1a"/>
<text x="909.50" y="222.60" font-size="13.3" text-anchor="middle" transform="rotate(-90 909.50 222.60)" >C9</text>
<line x1="799.90" y1="245.90" x2="894.50" y2="212.30" stroke="#1a1a1a" stroke-width="0.9"/>
<polygon points="842.00,230.90 848.10,227.15 849.10,229.98" fill="#1a1a1a"/>
<text x="802.00" y="240.20" font-size="13.3" text-anchor="start" transform="rotate(-20 802.00 240.20)" ><tspan font-size="11.5" stroke="none" letter-spacing="1.1">ø</tspan>C3</text>
<text x="865.00" y="296.90" font-size="13.3" text-anchor="middle" textLength="48.6" lengthAdjust="spacing">B VIEW</text>
<rect x="864.80" y="287.40" width="1.70" height="9.50" rx="0" stroke="#1a1a1a" stroke-width="0.1" fill="#1a1a1a"/>
<line x1="840.20" y1="300.50" x2="889.80" y2="300.50" stroke="#1a1a1a" stroke-width="1.0"/>
<path d="M752.4,385.5 H864.2 A108.2,108.2 0 0 1 900.5,422.6 V534.2 A108.2,108.2 0 0 1 864.2,571.5 H752.4 A108.2,108.2 0 0 1 715.5,534.2 V422.6 A108.2,108.2 0 0 1 752.4,385.5 Z" stroke="#1a1a1a" stroke-width="1.05" fill="none"/>
<circle cx="808.30" cy="478.30" r="77.60" stroke="#1a1a1a" stroke-width="1.0" fill="none"/>
<circle cx="808.30" cy="478.30" r="75.50" stroke="#1a1a1a" stroke-width="1.0" fill="none"/>
<circle cx="808.30" cy="478.30" r="68.60" stroke="#1a1a1a" stroke-width="1.0" fill="none"/>
<circle cx="808.30" cy="478.30" r="35.00" stroke="#1a1a1a" stroke-width="1.9" fill="none"/>
<circle cx="808.30" cy="478.30" r="32.40" stroke="#1a1a1a" stroke-width="0.8" fill="none"/>
<circle cx="808.30" cy="478.30" r="22.00" stroke="#1a1a1a" stroke-width="1.7" fill="none"/>
<circle cx="808.30" cy="478.30" r="15.00" stroke="#1a1a1a" stroke-width="1.5" fill="none"/>
<circle cx="808.30" cy="478.30" r="11.20" stroke="#1a1a1a" stroke-width="0.9" fill="none"/>
<line x1="808.00" y1="451.70" x2="808.00" y2="455.10" stroke="#1a1a1a" stroke-width="2.0"/>
<rect x="803.40" y="461.90" width="9.80" height="3.00" rx="0" stroke="#fff" stroke-width="0.1" fill="#fff"/>
<path d="M803.1999999999999,464.0 V461.5 H813.4 V464.0" stroke="#1a1a1a" stroke-width="1.1" fill="none"/>
<line x1="820.84" y1="470.02" x2="826.90" y2="466.52" stroke="#1a1a1a" stroke-width="0.8"/>
<line x1="821.74" y1="471.58" x2="827.80" y2="468.08" stroke="#1a1a1a" stroke-width="0.8"/>
<line x1="794.86" y1="471.58" x2="788.80" y2="468.08" stroke="#1a1a1a" stroke-width="0.8"/>
<line x1="795.76" y1="470.02" x2="789.70" y2="466.52" stroke="#1a1a1a" stroke-width="0.8"/>
<line x1="809.50" y1="493.30" x2="809.50" y2="500.30" stroke="#1a1a1a" stroke-width="1.0"/>
<line x1="807.50" y1="493.30" x2="807.50" y2="500.30" stroke="#1a1a1a" stroke-width="1.0"/>
<path d="M787.3,502.8 Q800.3,509.3 810.3,510.3" stroke="#1a1a1a" stroke-width="0.8" fill="none"/>
<line x1="707.40" y1="478.50" x2="737.50" y2="478.50" stroke="#1a1a1a" stroke-width="1.0"/>
<line x1="741.30" y1="478.50" x2="749.80" y2="478.50" stroke="#1a1a1a" stroke-width="1.0"/>
<line x1="757.20" y1="478.50" x2="860.00" y2="478.50" stroke="#1a1a1a" stroke-width="1.0"/>
<line x1="866.30" y1="478.50" x2="874.80" y2="478.50" stroke="#1a1a1a" stroke-width="1.0"/>
<line x1="879.00" y1="478.50" x2="909.70" y2="478.50" stroke="#1a1a1a" stroke-width="1.0"/>
<line x1="808.50" y1="377.00" x2="808.50" y2="409.30" stroke="#1a1a1a" stroke-width="1.0"/>
<line x1="808.50" y1="413.10" x2="808.50" y2="419.80" stroke="#1a1a1a" stroke-width="1.0"/>
<line x1="808.50" y1="427.70" x2="808.50" y2="529.10" stroke="#1a1a1a" stroke-width="1.0"/>
<line x1="808.50" y1="537.00" x2="808.50" y2="543.70" stroke="#1a1a1a" stroke-width="1.0"/>
<line x1="808.50" y1="547.50" x2="808.50" y2="579.80" stroke="#1a1a1a" stroke-width="1.0"/>
<line x1="780.50" y1="452.50" x2="801.70" y2="452.50" stroke="#1a1a1a" stroke-width="1.0"/>
<line x1="805.00" y1="452.50" x2="811.00" y2="452.50" stroke="#1a1a1a" stroke-width="1.0"/>
<line x1="814.30" y1="452.50" x2="833.80" y2="452.50" stroke="#1a1a1a" stroke-width="1.0"/>
<circle cx="884.80" cy="478.30" r="4.80" stroke="#1a1a1a" stroke-width="1.3" fill="none"/>
<circle cx="884.80" cy="478.30" r="2.88" stroke="#1a1a1a" stroke-width="0.6" fill="#222"/>
<circle cx="862.39" cy="532.39" r="4.80" stroke="#1a1a1a" stroke-width="1.3" fill="none"/>
<circle cx="862.39" cy="532.39" r="2.88" stroke="#1a1a1a" stroke-width="0.6" fill="#222"/>
<circle cx="808.30" cy="554.80" r="4.80" stroke="#1a1a1a" stroke-width="1.3" fill="none"/>
<circle cx="808.30" cy="554.80" r="2.88" stroke="#1a1a1a" stroke-width="0.6" fill="#222"/>
<circle cx="754.21" cy="532.39" r="4.80" stroke="#1a1a1a" stroke-width="1.3" fill="none"/>
<circle cx="754.21" cy="532.39" r="2.88" stroke="#1a1a1a" stroke-width="0.6" fill="#222"/>
<circle cx="731.80" cy="478.30" r="4.80" stroke="#1a1a1a" stroke-width="1.3" fill="none"/>
<circle cx="731.80" cy="478.30" r="2.88" stroke="#1a1a1a" stroke-width="0.6" fill="#222"/>
<circle cx="754.21" cy="424.21" r="4.80" stroke="#1a1a1a" stroke-width="1.3" fill="none"/>
<circle cx="754.21" cy="424.21" r="2.88" stroke="#1a1a1a" stroke-width="0.6" fill="#222"/>
<circle cx="808.30" cy="401.80" r="4.80" stroke="#1a1a1a" stroke-width="1.3" fill="none"/>
<circle cx="808.30" cy="401.80" r="2.88" stroke="#1a1a1a" stroke-width="0.6" fill="#222"/>
<circle cx="862.39" cy="424.21" r="4.80" stroke="#1a1a1a" stroke-width="1.3" fill="none"/>
<circle cx="862.39" cy="424.21" r="2.88" stroke="#1a1a1a" stroke-width="0.6" fill="#222"/>
<circle cx="873.78" cy="543.78" r="4.30" stroke="#1a1a1a" stroke-width="0.95" fill="none"/>
<line x1="869.32" y1="539.32" x2="878.23" y2="548.23" stroke="#1a1a1a" stroke-width="0.95"/>
<line x1="878.23" y1="539.32" x2="869.32" y2="548.23" stroke="#1a1a1a" stroke-width="0.95"/>
<circle cx="742.82" cy="543.78" r="4.30" stroke="#1a1a1a" stroke-width="0.95" fill="none"/>
<line x1="738.37" y1="539.32" x2="747.28" y2="548.23" stroke="#1a1a1a" stroke-width="0.95"/>
<line x1="747.28" y1="539.32" x2="738.37" y2="548.23" stroke="#1a1a1a" stroke-width="0.95"/>
<circle cx="742.82" cy="412.82" r="4.30" stroke="#1a1a1a" stroke-width="0.95" fill="none"/>
<line x1="738.37" y1="408.37" x2="747.28" y2="417.28" stroke="#1a1a1a" stroke-width="0.95"/>
<line x1="747.28" y1="408.37" x2="738.37" y2="417.28" stroke="#1a1a1a" stroke-width="0.95"/>
<circle cx="873.78" cy="412.82" r="4.30" stroke="#1a1a1a" stroke-width="0.95" fill="none"/>
<line x1="869.32" y1="408.37" x2="878.23" y2="417.28" stroke="#1a1a1a" stroke-width="0.95"/>
<line x1="878.23" y1="408.37" x2="869.32" y2="417.28" stroke="#1a1a1a" stroke-width="0.95"/>
<line x1="715.50" y1="342.50" x2="715.50" y2="418.70" stroke="#1a1a1a" stroke-width="1.0"/>
<line x1="900.50" y1="342.50" x2="900.50" y2="418.70" stroke="#1a1a1a" stroke-width="1.0"/>
<line x1="715.50" y1="346.50" x2="900.50" y2="346.50" stroke="#1a1a1a" stroke-width="1.0"/>
<polygon points="715.50,346.40 724.00,344.90 724.00,347.90" fill="#1a1a1a"/>
<polygon points="900.50,346.40 892.00,347.90 892.00,344.90" fill="#1a1a1a"/>
<text x="812.40" y="342.40" font-size="13.3" text-anchor="middle" >C7</text>
<rect x="795.90" y="335.10" width="6.40" height="6.30" rx="0" stroke="#1a1a1a" stroke-width="0.8" fill="none"/>
<text x="804.70" y="367.30" font-size="13.3" text-anchor="middle" >C6</text>
<path d="M796.7,371.5 H827.3 L823.1,438" stroke="#1a1a1a" stroke-width="1.0" fill="none"/>
<polygon points="822.60,446.00 821.64,437.42 824.63,437.61" fill="#1a1a1a"/>
<path d="M818.4,444.9 L826.4,448.2 L825.4,450.6 L817.6,447.0 Z" stroke="#1a1a1a" stroke-width="0.3" fill="#111"/>
<line x1="651.30" y1="443.30" x2="902.00" y2="499.60" stroke="#1a1a1a" stroke-width="0.9"/>
<polygon points="731.30,461.20 723.17,460.90 723.83,457.98" fill="#1a1a1a"/>
<polygon points="888.60,496.60 896.73,496.90 896.07,499.82" fill="#1a1a1a"/>
<text x="658.60" y="439.40" font-size="13.8" text-anchor="start" transform="rotate(12.5 658.60 439.40)" font-style="italic" ><tspan font-size="11.5" stroke="none" letter-spacing="1.1">ø</tspan>C5 <tspan font-size="9.5" dy="0.8">H8</tspan></text>
<path d="M792.2,613.5 H853.6 L870.6,555" stroke="#1a1a1a" stroke-width="1.0" fill="none"/>
<polygon points="872.30,548.50 871.54,556.60 868.65,555.78" fill="#1a1a1a"/>
<text x="821.70" y="592.30" font-size="13.3" text-anchor="middle" >PCD C1</text>
<text x="821.70" y="609.30" font-size="13.3" text-anchor="middle" >C2</text>
<line x1="712.00" y1="511.50" x2="731.10" y2="511.50" stroke="#1a1a1a" stroke-width="1.0"/>
<path d="M716.3,505.3 H719.5 M721.5,505.3 H724.6 V517.5 H721.5 M719.5,517.5 H716.3" stroke="#1a1a1a" stroke-width="1.0" fill="none"/>
<line x1="721.50" y1="507.10" x2="721.50" y2="515.70" stroke="#1a1a1a" stroke-width="1.0"/>
<line x1="716.10" y1="507.50" x2="721.00" y2="507.50" stroke="#1a1a1a" stroke-width="1.0"/>
<line x1="716.10" y1="509.50" x2="721.00" y2="509.50" stroke="#1a1a1a" stroke-width="1.0"/>
<line x1="716.10" y1="513.50" x2="721.00" y2="513.50" stroke="#1a1a1a" stroke-width="1.0"/>
<line x1="716.10" y1="515.50" x2="721.00" y2="515.50" stroke="#1a1a1a" stroke-width="1.0"/>
<line x1="716.00" y1="505.30" x2="716.00" y2="517.50" stroke="#1a1a1a" stroke-width="1.5"/>
<line x1="888.00" y1="445.50" x2="906.80" y2="445.50" stroke="#1a1a1a" stroke-width="1.0"/>
<path d="M899.8000000000001,439.6 H896.6 M894.6,439.6 H891.5 V451.8 H894.6 M896.6,451.8 H899.8000000000001" stroke="#1a1a1a" stroke-width="1.0" fill="none"/>
<line x1="895.50" y1="441.40" x2="895.50" y2="450.00" stroke="#1a1a1a" stroke-width="1.0"/>
<line x1="900.00" y1="441.50" x2="895.10" y2="441.50" stroke="#1a1a1a" stroke-width="1.0"/>
<line x1="900.00" y1="443.50" x2="895.10" y2="443.50" stroke="#1a1a1a" stroke-width="1.0"/>
<line x1="900.00" y1="447.50" x2="895.10" y2="447.50" stroke="#1a1a1a" stroke-width="1.0"/>
<line x1="900.00" y1="449.50" x2="895.10" y2="449.50" stroke="#1a1a1a" stroke-width="1.0"/>
<line x1="892.00" y1="439.60" x2="892.00" y2="451.80" stroke="#1a1a1a" stroke-width="1.6"/>
</svg>
</body></html>
